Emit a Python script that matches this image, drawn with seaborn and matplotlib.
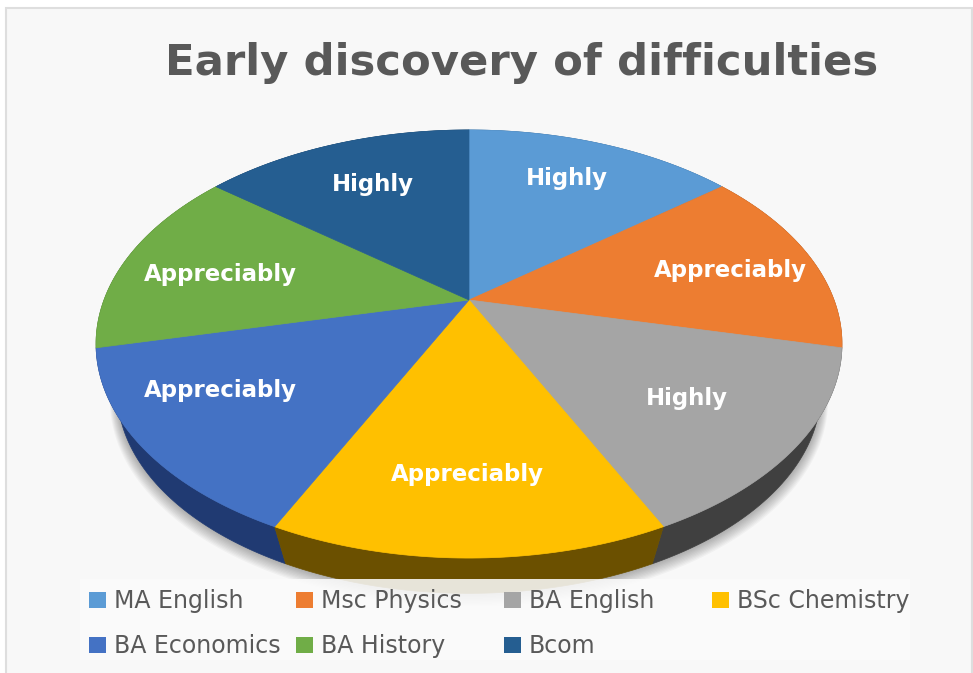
#!/usr/bin/env python
"""
Early discovery of difficulties: 3D looking pie, one equal slice per course
"""

# %% import modules
import numpy as np
import matplotlib
matplotlib.use("Agg")
import matplotlib.pyplot as plt
from matplotlib.patches import Polygon, Rectangle
import seaborn as sns

# %% data
courses = ["MA English", "Msc Physics", "BA English", "BSc Chemistry", "BA Economics", "BA History", "Bcom"]
shares = [1, 1, 1, 1, 1, 1, 1]
ratings = ["Highly", "Appreciably", "Highly", "Appreciably", "Appreciably", "Appreciably", "Highly"]
top_colors = ["#5b9bd5", "#ed7d31", "#a5a5a5", "#ffc000", "#4472c4", "#70ad47", "#255e91"]
side_colors = ["#2f5d86", "#8f4a1b", "#404040", "#6b5000", "#203a72", "#43692a", "#163a5a"]
title = "Early discovery of difficulties"

# %% layout, in pixels of the picture
rating_xy = [(567, 178), (730, 270), (687, 398), (467, 475), (220, 391), (220, 275), (373, 185)]
legend_xy = [(89, 600), (296, 600), (504, 600), (712, 600), (89, 645), (296, 645), (504, 645)]
apex = (469, 300)
rx, ry, tilt = 365, 205, 0.2056  # perspective of the disc
base_scale, base_drop = 0.943, 50

# %% set up figure
sns.set_theme(style="white")
plt.rcParams["font.family"] = ["DejaVu Sans"]
fig = plt.figure(figsize=(9.73, 6.73), dpi=100, facecolor="white")
ax = fig.add_axes([0, 0, 1, 1])
ax.set_xlim(0, 973)
ax.set_ylim(673, 0)
ax.axis("off")
ax.add_patch(Rectangle((6, 8), 966, 670, fc="#f8f8f8", ec="#dedede", lw=1.5, zorder=0))

# the pie gives the slice angles, it is then projected onto the tilted disc
helper = fig.add_axes([0, 0, 0.1, 0.1])
wedges, _ = helper.pie(shares, startangle=90, counterclock=False)
helper.set_visible(False)


def project(deg, scale=1.0, drop=0.0):
    """Map angles on the unit circle to pixels of the picture"""
    t = np.radians(deg)
    x, y = np.cos(t), np.sin(t)
    w = 1 + tilt * y
    return np.column_stack([apex[0] + scale * rx * x / w, apex[1] - scale * ry * y / w + drop])


def arc(wedge, n=60):
    return np.linspace(wedge.theta1, wedge.theta2, n)


# %% soft shadow under the pie
ring = np.linspace(0, 360, 300)
for i in range(10, 0, -1):
    ax.add_patch(Polygon(project(ring, base_scale + 0.002 * i, base_drop + 0.8 * i),
                         fc="black", ec="none", alpha=0.03, zorder=1))

# %% side walls, back to front
order = np.argsort([-np.sin(np.radians((w.theta1 + w.theta2) / 2)) for w in wedges])
for i in order[::-1]:
    deg = arc(wedges[i])
    wall = np.vstack([project(deg), project(deg, base_scale, base_drop)[::-1]])
    ax.add_patch(Polygon(wall, fc=side_colors[i], ec=side_colors[i], lw=0.5, zorder=2 + (-np.sin(np.radians(deg.mean())))))

# %% top faces
for w, color, label, (lx, ly) in zip(wedges, top_colors, ratings, rating_xy):
    face = np.vstack([apex, project(arc(w))])
    ax.add_patch(Polygon(face, fc=color, ec=color, lw=0.5, zorder=4))
    ax.text(lx, ly, label, color="white", fontsize=16.5, fontweight="bold", ha="center", va="center", zorder=5)

# %% legend
ax.add_patch(Rectangle((80, 579), 830, 81, fc="#fbfbfb", ec="none", alpha=0.87, zorder=6))
for name, color, (lx, ly) in zip(courses, top_colors, legend_xy):
    ax.add_patch(Rectangle((lx, ly - 8), 17, 16, fc=color, ec="none", zorder=7))
    ax.text(lx + 25, ly + 1, name, color="#595959", fontsize=17, ha="left", va="center", zorder=7)

# %% title
ax.text(522, 63, title, color="#595959", fontsize=31.2, fontweight="bold", ha="center", va="center", zorder=7)

fig.savefig("out.png", dpi=100, facecolor="white")
plt.close()
